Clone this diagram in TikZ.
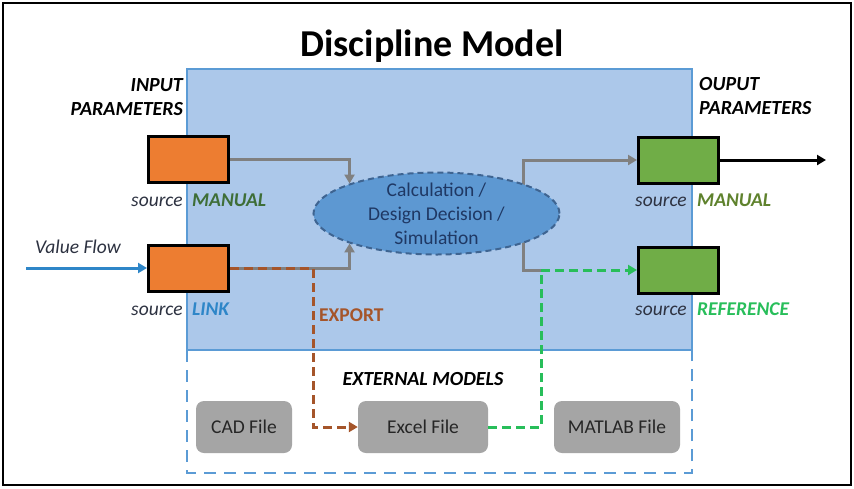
\documentclass[tikz,border=0pt]{standalone}
\usepackage{fontspec}
\setmainfont{Carlito}
\usetikzlibrary{arrows.meta,positioning,calc,shapes.geometric}
\definecolor{panelblue}{RGB}{172,200,234}
\definecolor{edgeblue}{RGB}{91,155,213}
\definecolor{calcblue}{RGB}{93,152,210}
\definecolor{calcedge}{RGB}{62,100,145}
\definecolor{navytext}{RGB}{31,56,100}
\definecolor{inorange}{RGB}{237,125,49}
\definecolor{outgreen}{RGB}{112,173,71}
\definecolor{filegray}{RGB}{165,165,165}
\definecolor{linkgray}{RGB}{128,128,128}
\definecolor{exportbrown}{RGB}{165,85,42}
\definecolor{refgreen}{RGB}{40,190,90}
\definecolor{manualgreen}{RGB}{62,110,55}
\definecolor{manualolive}{RGB}{95,130,45}
\definecolor{linkblue}{RGB}{46,134,200}
\definecolor{sourcegray}{RGB}{45,50,65}

\begin{document}
\begin{tikzpicture}[x=1pt,y=-1pt,
        txt/.style={inner sep=0pt,font=\fontsize{19.5}{24}\selectfont},
        headtxt/.style={inner sep=0pt,font=\fontsize{20}{24}\selectfont\bfseries\itshape},
        srctxt/.style={inner sep=0pt,font=\fontsize{19.5}{24}\selectfont\itshape,text=sourcegray,anchor=base east},
        kindtxt/.style={inner sep=0pt,font=\fontsize{19.5}{24}\selectfont\bfseries\itshape,anchor=base west},
        param/.style={draw=black,line width=3pt,minimum width=80pt,minimum height=46pt,inner sep=0pt},
        filebox/.style={fill=filegray,rounded corners=8pt,minimum height=52pt,inner sep=0pt,
                font=\fontsize{19.5}{24}\selectfont,text=black!85},
        tip/.style={-{Triangle[length=9pt,width=10pt]}},
        linkline/.style={draw=linkgray,line width=3pt},
        exportline/.style={draw=exportbrown,line width=3pt,dash pattern=on 9pt off 5pt,tip},
        refline/.style={draw=refgreen,line width=3pt,dash pattern=on 9pt off 5pt,tip}]
        \useasboundingbox (0,0) rectangle (854,488);
        \fill[white] (0,0) rectangle (854,488);
        \draw[line width=2pt] (3,3) rectangle (851,485);

        \fill[panelblue,draw=edgeblue,line width=2pt] (187,69) rectangle (692,350);
        \draw[edgeblue,line width=2pt,dash pattern=on 12pt off 8pt] (187,350) rectangle (692,473);

        \node[anchor=base,inner sep=0pt,font=\fontsize{38}{44}\selectfont\bfseries] (title) at (432,56) {Discipline Model};

        \node[headtxt,anchor=east,align=right] (inhead) at (183,97) {INPUT\\PARAMETERS};
        \node[headtxt,anchor=west,align=left] (outhead) at (699,96) {OUPUT\\PARAMETERS};

        \node[param,fill=inorange] (inM) at (188.5,159) {};
        \node[param,fill=inorange] (inL) at (188.5,268) {};
        \node[param,fill=outgreen] (outM) at (678.5,160) {};
        \node[param,fill=outgreen] (outR) at (678.5,270) {};

        \node[srctxt] (inMsrc) at (183,206) {source};
        \node[kindtxt,text=manualgreen] (inMkind) at (192,206) {MANUAL};
        \node[srctxt] (inLsrc) at (183,315) {source};
        \node[kindtxt,text=linkblue] (inLkind) at (192,315) {LINK};
        \node[srctxt] (outMsrc) at (687,206) {source};
        \node[kindtxt,text=manualolive] (outMkind) at (697,206) {MANUAL};
        \node[srctxt] (outRsrc) at (687,315) {source};
        \node[kindtxt,text=refgreen] (outRkind) at (697,315) {REFERENCE};

        \node[filebox,minimum width=96pt] (cad) at (244,427) {CAD File};
        \node[filebox,minimum width=130pt] (excel) at (423,427) {Excel File};
        \node[filebox,minimum width=126pt] (matlab) at (617,427) {MATLAB File};
        \node[headtxt,anchor=base] (exthead) at (423,385) {EXTERNAL MODELS};

        \coordinate (fork) at (523,214);
        \coordinate (bjoin) at (313,268);
        \coordinate (gjoin) at (541,270);
        \draw[linkline,tip] (fork) |- (outM.west);
        \draw[linkline] (fork) |- (gjoin);

        \node[ellipse,fill=calcblue,draw=calcedge,line width=2pt,dash pattern=on 6pt off 4pt,
                minimum width=246pt,minimum height=82pt,inner sep=0pt] (calc) at (436.5,213.5) {};
        \node[align=center,inner sep=0pt,text=navytext,font=\fontsize{19.5}{24}\selectfont] (calctxt) at (calc.center) {Calculation /\\Design Decision /\\Simulation};

        \draw[linkline,tip] (inM.east) -| (calc.161);
        \draw[linkline,tip] (inL.east) -| (calc.199);
        \draw[exportline] (inL.east) -- (bjoin) |- (excel.west);
        \draw[refline] (excel.east) -| (gjoin) -- (outR.west);

        \node[inner sep=0pt,anchor=base west,font=\fontsize{19.5}{24}\selectfont\bfseries,text=exportbrown] (export) at (319,321) {EXPORT};

        \node[txt,anchor=base west,font=\fontsize{19.5}{24}\selectfont\itshape,text=sourcegray] (vflow) at (35,253) {Value Flow};
        \coordinate (vfstart) at (26,268);
        \draw[linkblue,line width=3pt,tip] (vfstart) -- (inL.west);
        \coordinate (outend) at (826,160);
        \draw[black,line width=3pt,tip] (outM.east) -- (outend);
\end{tikzpicture}
\end{document}
